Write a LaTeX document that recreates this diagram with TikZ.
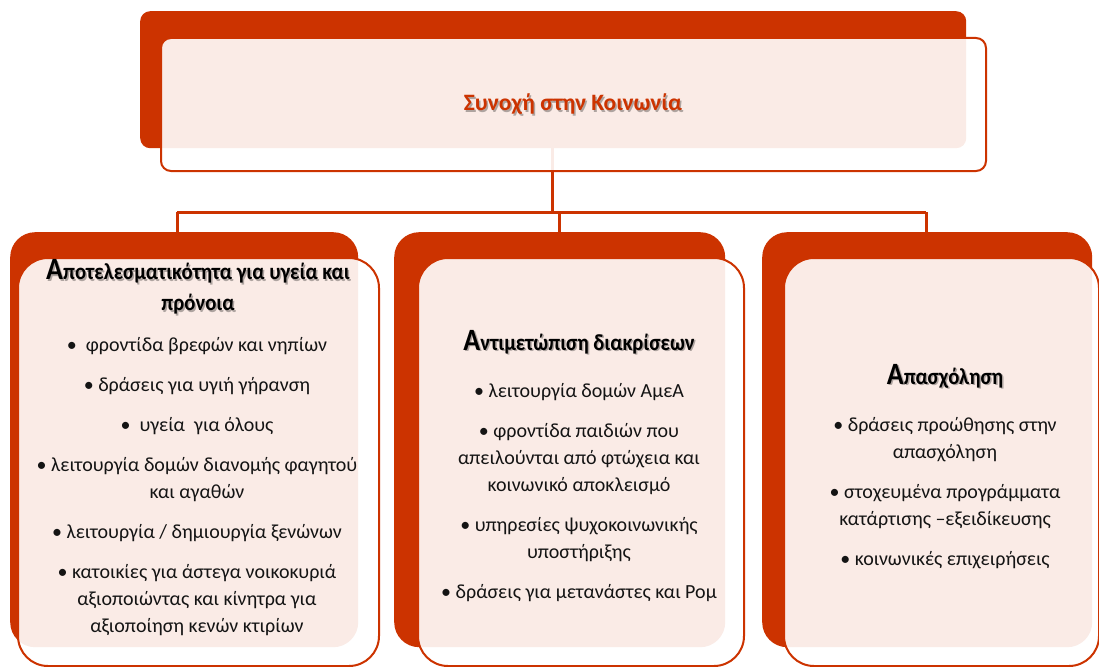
\documentclass[tikz,border=0pt]{standalone}
\usepackage{fontspec}
\setmainfont{Carlito}
\newfontfamily\headfont[FakeStretch=0.9]{Carlito}
\definecolor{mred}{RGB}{204,51,0}
\definecolor{ink}{RGB}{20,20,20}
\tikzset{
  backbox/.style={fill=mred, draw=none, inner sep=0pt, rounded corners=25pt, anchor=north west},
  frontbox/.style={fill=white, fill opacity=0.9, draw=mred, line width=2pt, inner sep=0pt, rounded corners=30pt, anchor=north west},
  conn/.style={draw=mred, line width=3pt},
  body/.style={font=\fontsize{20}{27}\selectfont, align=center, text=ink, inner sep=0pt, anchor=north},
  head/.style={font=\headfont\bfseries\fontsize{23}{31}\selectfont, align=center, text=black, inner sep=0pt},
  titletext/.style={font=\bfseries\fontsize{23.5}{26}\selectfont, text=mred, inner sep=0pt},
  shade/.style={text=black, text opacity=0.3, xshift=1.5pt, yshift=-1.8pt}
}
\newcommand{\bigA}[1]{{\fontsize{31}{31}\selectfont #1}}
\begin{document}
\begin{tikzpicture}[x=1pt,y=-1pt]
\useasboundingbox (0,0) rectangle (1099,666);
\clip (0,0) rectangle (1099,666);
% back shapes
\node[backbox, rounded corners=10pt, minimum width=826pt, minimum height=137pt] (topB) at (140,11) {};
\node[backbox, minimum width=348pt, minimum height=415pt] (leftB) at (10,232) {};
\node[backbox, minimum width=331pt, minimum height=415pt] (midB) at (394,232) {};
\node[backbox, minimum width=330pt, minimum height=415pt] (rightB) at (762,232) {};
% connectors
\coordinate (hub) at (552,212);
\coordinate (jL) at (177,212);
\coordinate (jM) at (559,212);
\coordinate (jR) at (926,212);
\draw[conn] (topB.south -| hub) -- (hub);
\draw[conn] (jL) -- (jR);
\draw[conn] (jL) -- (jL |- leftB.north);
\draw[conn] (jM) -- (jM |- midB.north);
\draw[conn] (jR) -- (jR |- rightB.north);
% front shapes
\node[frontbox, rounded corners=10pt, minimum width=825pt, minimum height=133pt] (topF) at (160,37) {};
\node[frontbox, minimum width=361pt, minimum height=408pt] (leftF) at (17,257) {};
\node[frontbox, minimum width=326pt, minimum height=408pt] (midF) at (417,257) {};
\node[frontbox, minimum width=315pt, minimum height=408pt] (rightF) at (783,257) {};
% title
\node[titletext, shade] at (573,104) {Συνοχή στην Κοινωνία};
\node[titletext] (title) at (573,104) {Συνοχή στην Κοινωνία};
% headings
\node[head, anchor=north, shade] at (198,259) {\bigA{Α}ποτελεσματικότητα για υγεία και\\πρόνοια};
\node[head, anchor=north] (hL) at (198,259) {\bigA{Α}ποτελεσματικότητα για υγεία και\\πρόνοια};
\node[head, anchor=base, shade] at (579,350) {\bigA{Α}ντιμετώπιση διακρίσεων};
\node[head, anchor=base] (hM) at (579,350) {\bigA{Α}ντιμετώπιση διακρίσεων};
\node[head, anchor=base, shade] at (945,384) {\bigA{Α}πασχόληση};
\node[head, anchor=base] (hR) at (945,384) {\bigA{Α}πασχόληση};
% bodies
\node[body] (bL) at (197,337) {•\ \ φροντίδα βρεφών και νηπίων\\[13pt]
• δράσεις για υγιή γήρανση\\[13pt]
•\ \ υγεία\ \ για όλους\\[13pt]
• λειτουργία δομών διανομής φαγητού\\ και αγαθών\\[13pt]
• λειτουργία / δημιουργία ξενώνων\\[13pt]
• κατοικίες για άστεγα νοικοκυριά\\ αξιοποιώντας και κίνητρα για\\ αξιοποίηση κενών κτιρίων};
\node[body] (bM) at (579,383) {• λειτουργία δομών ΑμεΑ\\[13pt]
• φροντίδα παιδιών που\\ απειλούνται από φτώχεια και\\ κοινωνικό αποκλεισμό\\[13pt]
• υπηρεσίες ψυχοκοινωνικής\\ υποστήριξης\\[13pt]
• δράσεις για μετανάστες και Ρομ};
\node[body] (bR) at (945,417) {• δράσεις προώθησης στην\\ απασχόληση\\[13pt]
• στοχευμένα προγράμματα\\ κατάρτισης –εξειδίκευσης\\[13pt]
• κοινωνικές επιχειρήσεις};
\end{tikzpicture}
\end{document}
